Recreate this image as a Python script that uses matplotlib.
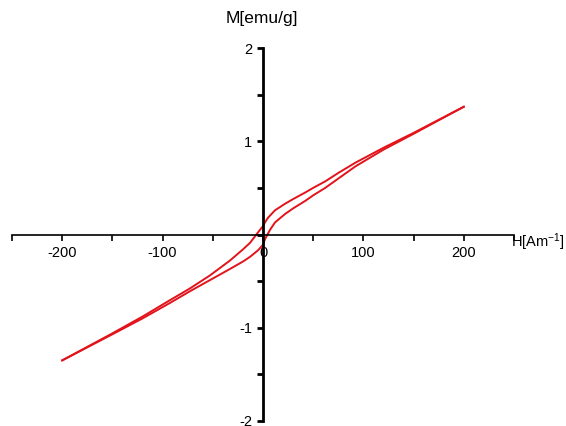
import numpy as np
import matplotlib.pyplot as plt
from matplotlib.ticker import MultipleLocator

plt.rcParams['font.family'] = ['Liberation Sans', 'DejaVu Sans']
plt.rcParams['mathtext.default'] = 'regular'

# descending branch (from +200 down to -200)
h_down = [200, 150, 120, 92, 75, 62, 50, 42, 30, 22, 12, 5, 2, 0, -3, -8, -13, -20, -33, -53, -73, -92,
          -120, -150, -200]
m_down = [1.37, 1.09, 0.93, 0.77, 0.66, 0.57, 0.50, 0.45, 0.38, 0.33, 0.26, 0.18, 0.13, 0.09, 0.05, -0.02,
          -0.09, -0.16, -0.28, -0.44, -0.58, -0.70, -0.88, -1.06, -1.35]
# ascending branch (from -200 up to +200)
h_up = [-200, -150, -120, -92, -73, -53, -33, -20, -13, -5, 0, 2, 7, 12, 22, 30, 42, 50, 62, 75, 92,
        120, 150, 200]
m_up = [-1.35, -1.07, -0.90, -0.73, -0.61, -0.49, -0.37, -0.29, -0.24, -0.17, -0.11, -0.05, 0.05, 0.13,
        0.22, 0.28, 0.36, 0.42, 0.50, 0.60, 0.73, 0.91, 1.08, 1.37]

x_major = [-200, -100, 0, 100, 200]
y_major = [-2, -1, 1, 2]

fig = plt.figure(figsize=(5.66, 4.26), dpi=100)
ax = fig.add_axes([12 / 566, 5 / 426, 502 / 566, 373 / 426])

ax.plot(h_down, m_down, color='#e2131b', lw=1.4)
ax.plot(h_up, m_up, color='#e2131b', lw=1.4)

ax.set_xlim(-250, 250)
ax.set_ylim(-2, 2)

ax.spines['left'].set_position(('data', 0))
ax.spines['bottom'].set_position(('data', 0))
ax.spines['right'].set_visible(False)
ax.spines['top'].set_visible(False)
ax.spines['left'].set_linewidth(2)
ax.spines['bottom'].set_linewidth(1.2)

ax.set_xticks(x_major)
ax.set_xticklabels([str(v) for v in x_major])
ax.xaxis.set_minor_locator(MultipleLocator(50))
ax.set_yticks(y_major)
ax.set_yticklabels([str(v) for v in y_major])
ax.yaxis.set_minor_locator(MultipleLocator(0.5))

ax.tick_params(axis='x', which='both', direction='out', length=4, width=1.2, labelsize=10.5, pad=4)
ax.tick_params(axis='y', which='both', direction='out', length=4, width=2, labelsize=10.5, pad=4)

fig.text(262 / 566, 1 - 18 / 426, 'M[emu/g]', ha='center', va='center', fontsize=12.5)
fig.text(565 / 566, 1 - 242 / 426, 'H[Am$^{-1}$]', ha='right', va='center', fontsize=10.5)

plt.savefig('out.png', dpi=100)
